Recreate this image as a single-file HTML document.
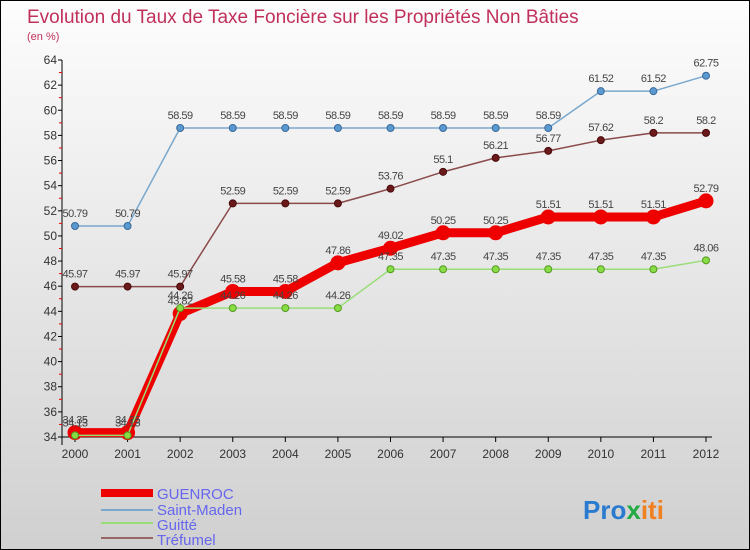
<!DOCTYPE html>
<html><head><meta charset="utf-8"><style>
body{margin:0}
#wrap{width:748px;height:548px;border:1px solid #000;background:linear-gradient(#fdfdfd,#d0d0d0);position:relative;font-family:"Liberation Sans",sans-serif;overflow:hidden}
svg text{font-family:"Liberation Sans",sans-serif}
</style></head><body>
<div id="wrap">
<svg id="chart" width="748" height="548">
<text x="26" y="22" font-size="19" fill="#c0305a">Evolution du Taux de Taxe Foncière sur les Propriétés Non Bâties</text>
<text x="26" y="39" font-size="11" fill="#c0305a">(en %)</text>
<g id="axes"></g><g id="series"></g>
<g>
<rect x="100" y="488" width="52" height="8" fill="#ee0000"/>
<text x="156" y="498" font-size="15" fill="#6666ee">GUENROC</text>
<line x1="100" y1="509" x2="152" y2="509" stroke="#7aa8cc" stroke-width="2"/>
<text x="156" y="514" font-size="15" fill="#6666ee">Saint-Maden</text>
<line x1="100" y1="522" x2="152" y2="522" stroke="#99dd77" stroke-width="2"/>
<text x="156" y="529" font-size="15" fill="#6666ee">Guitté</text>
<line x1="100" y1="537" x2="152" y2="537" stroke="#996666" stroke-width="2"/>
<text x="156" y="544" font-size="15" fill="#6666ee">Tréfumel</text>
</g>
<text x="582" y="518" font-size="26" font-weight="bold"><tspan fill="#2a7bd0">Pro</tspan><tspan fill="#22aa44">x</tspan><tspan fill="#f08020">iti</tspan></text>
</svg></div>
<script>
const years=[2000,2001,2002,2003,2004,2005,2006,2007,2008,2009,2010,2011,2012];
const guenroc=[34.35,34.35,43.82,45.58,45.58,47.86,49.02,50.25,50.25,51.51,51.51,51.51,52.79];
const saintMaden=[50.79,50.79,58.59,58.59,58.59,58.59,58.59,58.59,58.59,58.59,61.52,61.52,62.75];
const guitte=[34.13,34.13,44.26,44.26,44.26,44.26,47.35,47.35,47.35,47.35,47.35,47.35,48.06];
const trefumel=[45.97,45.97,45.97,52.59,52.59,52.59,53.76,55.1,56.21,56.77,57.62,58.2,58.2];
const yTicks=[34,36,38,40,42,44,46,48,50,52,54,56,58,60,62,64];
const NS="http://www.w3.org/2000/svg";
const x=i=>74+i*(631/12);
const y=v=>59+(64-v)*(377/30);
function mk(tag,attrs,parent){const e=document.createElementNS(NS,tag);for(const k in attrs)e.setAttribute(k,attrs[k]);parent.appendChild(e);return e;}
const axes=document.getElementById('axes');
const ax=mk('path',{d:`M61 ${y(64)} V${y(34)+8} M61 ${y(34)} H${x(12)+6}`,stroke:'#000',fill:'none'},axes);


yTicks.forEach(t=>{
 const l=mk('line',{x1:57,x2:61,y1:y(t),y2:y(t),stroke:'#000'},axes);
 
 
 if(t<64){const m=mk('line',{x1:58,x2:61,y1:y(t+1),y2:y(t+1),stroke:'#e00'},axes);
 
 }
 const tx=mk('text',{x:56,y:y(t)+4,'font-size':12,'text-anchor':'end',fill:'#333'},axes);tx.textContent=t;
 
 
});
years.forEach((yr,i)=>{
 const l=mk('line',{x1:x(i),x2:x(i),y1:y(34),y2:y(34)+5,stroke:'#000'},axes);
 
 
 const tx=mk('text',{x:x(i),y:y(34)+21,'font-size':12,'text-anchor':'middle',fill:'#333'},axes);tx.textContent=yr;
 
 
});
const ser=document.getElementById('series');
function draw(vals,name,line,dot,w,r,lc){
 const g=mk('g',{},ser);
 
 
 const p=mk('polyline',{points:vals.map((v,i)=>x(i)+','+y(v)).join(' '),fill:'none',stroke:line,'stroke-width':w,'stroke-linejoin':'round'},g);
 
 
 vals.forEach((v,i)=>{
  const c=mk('circle',{cx:x(i),cy:y(v),r:r,fill:dot,stroke:lc,'stroke-width':1},g);
  
  
  const t=mk('text',{x:x(i),y:y(v)-9,'font-size':11,'text-anchor':'middle',fill:'#444','letter-spacing':'-0.5'},g);t.textContent=v;
  
  
 });
}
draw(saintMaden,'saint-maden','#7aa8cc','#5a9ad0',1.5,3.5,'#3a6a9a');
draw(trefumel,'trefumel','#8a4a4a','#6a1a1a',1.5,3.5,'#4a0a0a');
draw(guenroc,'guenroc','#ee0000','#ee0000',9,7,'#ee0000');
draw(guitte,'guitte','#99dd77','#88dd44',1.5,3.5,'#559922');
</script>
</body></html>
